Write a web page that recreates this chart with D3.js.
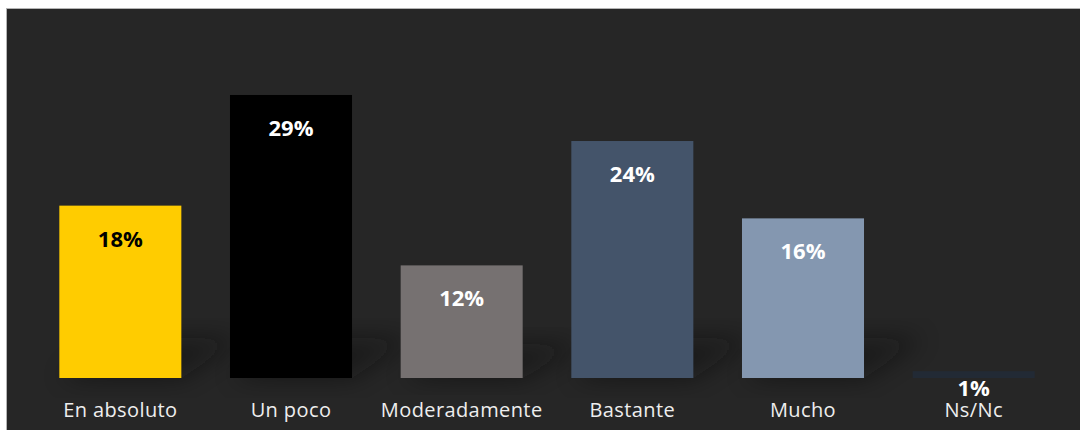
<!DOCTYPE html>
<html>
<head>
<meta charset="utf-8">
<script src="https://cdn.jsdelivr.net/npm/d3@7"></script>
<style>
	html, body { margin: 0; padding: 0; background: #ffffff; }
	svg { display: block; }
</style>
</head>
<body>
<div id="chart"></div>
<script>
// valores
var categorias = ['En absoluto', 'Un poco', 'Moderadamente', 'Bastante', 'Mucho', 'Ns/Nc'];
var valores = [17.6, 28.9, 11.5, 24.2, 16.3, 0.7];
var etiquetas = ['18%', '29%', '12%', '24%', '16%', '1%'];
var colores = ['#ffcc00', '#000000', '#767171', '#44546a', '#8497b0', '#222a35'];
var coloresTexto = ['#000000', '#ffffff', '#ffffff', '#ffffff', '#ffffff', '#ffffff'];

var ancho = 1080, alto = 430;
var base = 378;

var svg = d3.select('#chart').append('svg')
	.attr('width', ancho).attr('height', alto);

var defs = svg.append('defs');
defs.append('filter').attr('id', 'sombra')
	.attr('x', '-50%').attr('y', '-50%').attr('width', '200%').attr('height', '200%')
	.append('feGaussianBlur').attr('stdDeviation', 12);

// fondo
svg.append('rect')
	.attr('x', 6.5).attr('y', 8.5)
	.attr('width', ancho).attr('height', alto)
	.attr('fill', '#262626')
	.attr('stroke', '#b4b4b4');

var x = d3.scaleBand()
	.domain(categorias)
	.range([35, 1059])
	.paddingInner(0.285)
	.paddingOuter(0.1425);

var y = d3.scaleLinear()
	.domain([0, 29])
	.range([base, base - 284]);

var datos = categorias.map(function (c, i) {
	return {cat: c, val: valores[i], etiqueta: etiquetas[i], color: colores[i], texto: coloresTexto[i]};
});

// sombras en perspectiva
svg.append('g').selectAll('path')
	.data(datos.filter(function (d) { return d.val > 2; }))
	.join('path')
	.attr('d', function (d) {
		var x0 = x(d.cat), w = x.bandwidth();
		var h = Math.min(40, (base - y(d.val)) * 0.3);
		return 'M' + x0 + ',' + base + 'L' + (x0 + w) + ',' + base +
			'L' + (x0 + w + 60) + ',' + (base - h) + 'L' + (x0 + 60) + ',' + (base - h) + 'Z';
	})
	.attr('fill', '#101010')
	.attr('opacity', 0.45)
	.attr('filter', 'url(#sombra)');

svg.append('g').selectAll('rect')
	.data(datos)
	.join('rect')
	.attr('x', function (d) { return x(d.cat); })
	.attr('y', function (d) { return y(d.val); })
	.attr('width', x.bandwidth())
	.attr('height', function (d) { return base - y(d.val); })
	.attr('fill', function (d) { return d.color; });

// etiquetas de valor
svg.append('g').selectAll('text')
	.data(datos)
	.join('text')
	.attr('x', function (d) { return x(d.cat) + x.bandwidth() / 2; })
	.attr('y', function (d) { return d.val > 2 ? y(d.val) + 41 : base + 18; })
	.attr('text-anchor', 'middle')
	.attr('font-family', '"Open Sans", sans-serif')
	.attr('font-weight', 'bold')
	.attr('font-size', 22)
	.attr('fill', function (d) { return d.texto; })
	.text(function (d) { return d.etiqueta; });

// categorías
svg.append('g').selectAll('text')
	.data(datos)
	.join('text')
	.attr('x', function (d) { return x(d.cat) + x.bandwidth() / 2; })
	.attr('y', 417)
	.attr('text-anchor', 'middle')
	.attr('font-family', '"Open Sans", sans-serif')
	.attr('font-size', 20)
	.attr('letter-spacing', 0.4)
	.attr('fill', '#eeeeee')
	.text(function (d) { return d.cat; });
</script>
</body>
</html>
